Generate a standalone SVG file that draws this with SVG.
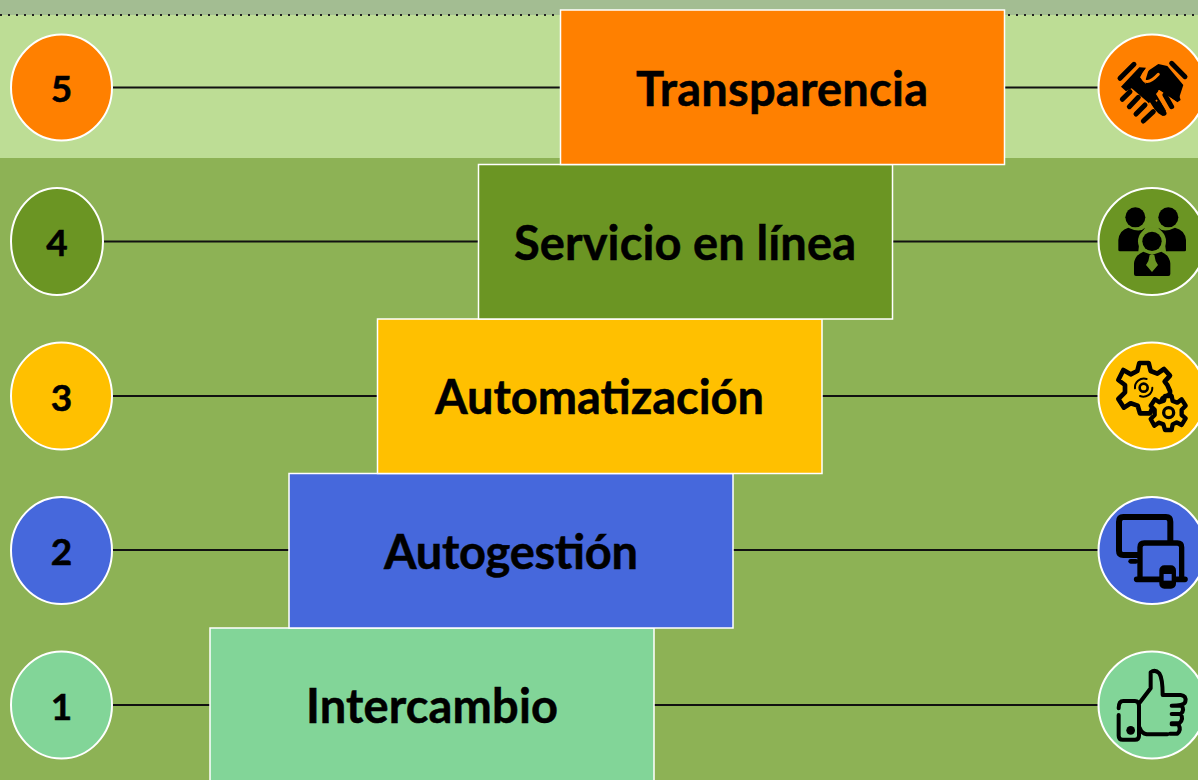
<svg xmlns="http://www.w3.org/2000/svg" width="1198" height="780" viewBox="0 0 1198 780">
<style>
.box{stroke:#fff;stroke-width:1.500}
.dot{stroke:#fff;stroke-width:2}
.ln{stroke:#111;stroke-width:2;fill:none}
.t{font-family:"Lato","Open Sans","Liberation Sans",sans-serif;font-weight:700;fill:#000;stroke:#000;stroke-width:.5;text-anchor:middle}
.big{font-size:47px}
.num{font-size:37px}
.ik{fill:none;stroke:#000;stroke-linecap:round;stroke-linejoin:round}
.o{fill:#FF8000}.g{fill:#6B9523}.y{fill:#FFC000}.b{fill:#4668DC}.m{fill:#82D598}
</style>
<g id="background">
<rect width="1198" height="780" fill="#8DB255"/>
<rect width="1198" height="158" fill="#BDDD95"/>
<rect width="1198" height="15" fill="#A3BD92"/>
<line x1="0" y1="15" x2="1198" y2="15" stroke="#222" stroke-width="2" stroke-dasharray="2 6"/>
</g>
<g id="connectors">
<line class="ln" x1="112" y1="87.500" x2="1100" y2="87.500"/>
<line class="ln" x1="103" y1="241.500" x2="1100" y2="241.500"/>
<line class="ln" x1="112" y1="396" x2="1100" y2="396"/>
<line class="ln" x1="112" y1="550" x2="1100" y2="550"/>
<line class="ln" x1="112" y1="705" x2="1100" y2="705"/>
</g>
<g id="step1"><rect class="box m" x="210" y="628" width="444" height="160"/><text class="t big" x="432" y="723" textLength="252">Intercambio</text></g>
<g id="step2"><rect class="box b" x="289" y="473.500" width="444" height="154.500"/><text class="t big" x="511" y="569" textLength="254">Autogestión</text></g>
<g id="step3"><rect class="box y" x="377.500" y="319" width="444.500" height="154.500"/><text class="t big" x="599.500" y="414" textLength="329">Automatización</text></g>
<g id="step4"><rect class="box g" x="478.500" y="164.500" width="414" height="154.500"/><text class="t big" x="685" y="260" textLength="342">Servicio en línea</text></g>
<g id="step5"><rect class="box o" x="560.500" y="10" width="444" height="154.500"/><text class="t big" x="782" y="106" textLength="292">Transparencia</text></g>
<g id="num5"><ellipse class="dot o" cx="61.500" cy="87.500" rx="50.500" ry="53"/><text class="t num" x="61.500" y="102">5</text></g>
<g id="num4"><ellipse class="dot g" cx="57" cy="241.500" rx="46" ry="53.500"/><text class="t num" x="57" y="256">4</text></g>
<g id="num3"><ellipse class="dot y" cx="61.500" cy="396" rx="50.500" ry="53.500"/><text class="t num" x="61.500" y="411">3</text></g>
<g id="num2"><ellipse class="dot b" cx="61.500" cy="550.500" rx="50.500" ry="53.500"/><text class="t num" x="61.500" y="565">2</text></g>
<g id="num1"><ellipse class="dot m" cx="61.500" cy="705" rx="50.500" ry="53.500"/><text class="t num" x="61.500" y="720">1</text></g>
<g id="icon5">
<ellipse class="dot o" cx="1152" cy="87.500" rx="53.500" ry="53"/>
<g transform="translate(1090 20) scale(.3333)">
<path d="M93 200L148 142L168 143L150 172L168 192L205 172L268 228L272 240L262 247L208 210L198 222L228 272L218 288L205 280L172 245L125 205L108 214Z" fill="#000"/>
<path d="M165 185L175 152L205 132L232 138L280 195L268 232L205 175L170 195Z" fill="#000"/>
<path d="M172 150Q148 170 165 183Q180 190 205 163" fill="none" stroke="#FF8000" stroke-width="9" stroke-linecap="round"/>
<path d="M205 212L262 250M198 240L225 275M178 248L205 290" fill="none" stroke="#FF8000" stroke-width="5"/>
<path class="ik" stroke-width="15" d="M90 175L132 133M245 130L285 170M97 238L120 215M118 260L145 232M138 282L165 255M160 303L190 275M205 250L222 280M225 225L245 260"/>
</g>
</g>
<g id="icon4">
<ellipse class="dot g" cx="1152" cy="241.500" rx="53.500" ry="53.500"/>
<g transform="translate(1090 180) scale(.3333)" fill="#000">
<circle cx="136" cy="112" r="30"/><circle cx="235" cy="112" r="30"/>
<path d="M85 210V180Q88 150 115 143Q150 160 165 143L150 170L145 214H90Q85 214 85 210Z"/>
<path d="M288 210V180Q285 150 255 143Q222 160 205 143L222 170L228 214H284Q288 214 288 210Z"/>
<circle cx="186" cy="184" r="42" fill="#6B9523"/>
<circle cx="186" cy="184" r="29"/>
<path d="M132 282V250Q135 225 160 215L186 225L214 215Q238 225 241 250V282Q241 288 235 288H138Q132 288 132 282Z"/>
<path d="M179 225H193L197 243L204 255L186 276L168 255L175 243Z" fill="#6B9523"/>
</g>
</g>
<g id="icon3">
<ellipse class="dot y" cx="1152" cy="396" rx="53.500" ry="53.500"/>
<g transform="translate(1090 335) scale(.3333)">
<path class="ik" stroke-width="14" style="fill:#FFC000" d="M148 84H176L182 108L202 116L222 102L240 122L224 140L232 150L240 168V178L218 190L206 215L192 208L180 235H150L143 212L122 205L102 218L85 192L105 172V150L85 135L100 105L122 118L142 108Z"/>
<path class="ik" stroke-width="6" d="M135 160A27 27 0 0 1 170 132M187 158A27 27 0 0 1 150 183"/>
<circle cx="161" cy="158" r="12" fill="none" stroke="#000" stroke-width="8"/>
<path class="ik" stroke-width="13" style="fill:#FFC000" d="M225 183H245L248 198L262 203L275 193L287 212L275 224V240L287 250L275 270L260 262L248 268L245 285H225L220 268L206 263L193 272L182 252L194 240V224L182 212L195 193L208 202L222 197Z"/>
<circle cx="236" cy="233" r="15" fill="none" stroke="#000" stroke-width="10"/>
</g>
</g>
<g id="icon2">
<ellipse class="dot b" cx="1152" cy="550.500" rx="53.500" ry="53.500"/>
<g transform="translate(1090 490) scale(.3333)">
<path class="ik" stroke-width="18" d="M145 195H100Q87 195 87 182V95Q87 81 100 81H228Q241 81 241 95V155"/>
<path class="ik" stroke-width="14" d="M122 214H138"/>
<path class="ik" stroke-width="16" d="M150 260V172Q150 159 163 159H262Q275 159 275 172V260"/>
<path class="ik" stroke-width="17" d="M140 268H212M255 268H285"/>
<rect x="215" y="233" width="36" height="56" rx="8" fill="#000" stroke="#000" stroke-width="14"/>
<rect x="221" y="252" width="24" height="20" fill="#4668DC"/>
</g>
</g>
<g id="icon1">
<ellipse class="dot m" cx="1152" cy="705" rx="53.500" ry="53.500"/>
<g transform="translate(1090 645) scale(.3333)">
<path class="ik" stroke-width="12" d="M150 172L182 130V82Q195 72 208 85Q218 100 218 150H272Q290 152 286 170Q284 182 245 182M245 182H275Q285 195 272 207H245M245 207H272Q282 222 268 235H245M245 238H265Q275 255 262 266H240M232 268H170Q155 265 150 250"/>
<path class="ik" stroke-width="12" d="M86 190Q86 168 100 168H135Q147 168 147 182V272Q147 284 135 284H98Q86 284 86 272V210"/>
<circle cx="122" cy="256" r="13" fill="#000"/>
</g>
</g>
</svg>
